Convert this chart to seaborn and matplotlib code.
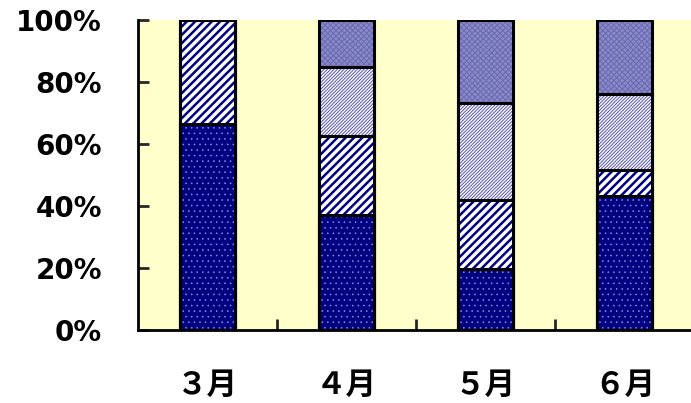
import pandas as pd
import matplotlib
matplotlib.use("Agg")
import matplotlib.pyplot as plt
import seaborn as sns
import numpy as np

# data (share of each category, %)
months = ["３月", "４月", "５月", "６月"]
seg1 = [66.5, 37.1, 19.7, 43.2]   # bottom, dark dotted
seg2 = [33.5, 25.5, 22.2, 8.4]    # bold diagonal
seg3 = [0.0, 22.2, 31.3, 24.5]    # fine diagonal
seg4 = [0.0, 15.2, 26.8, 23.9]    # checkered top
ytick_labels = ["0%", "20%", "40%", "60%", "80%", "100%"]

sns.set_style("white")
plt.rcParams['font.family'] = ['DejaVu Sans', 'Noto Sans CJK JP']

fig = plt.figure(figsize=(6.91, 4.03), dpi=100)
ax = fig.add_axes([138 / 691, 73 / 403, 556 / 691, 310 / 403])
ax.set_facecolor("#ffffcc")

# fill, hatch, hatch colour, hatch linewidth per layer
styles = [
    ("#000080", "...", "#9090e0", 0.4),
    ("white", "////", "#000080", 1.8),
    ("white", "//////////", "#5252b8", 0.7),
    ("#8a8acc", "xxxxxx", "#6c6cb0", 0.8),
]
layers = [seg1, seg2, seg3, seg4]
cum = np.cumsum(np.array(layers), axis=0)

# stacked: draw cumulative totals from the top layer down
for i in reversed(range(len(layers))):
    fc, hatch, hc, hlw = styles[i]
    df = pd.DataFrame({"month": months, "value": cum[i]})
    n0 = len(ax.patches)
    with plt.rc_context({"hatch.linewidth": hlw}):
        sns.barplot(data=df, x="month", y="value", width=0.4,
                    color=fc, edgecolor=hc, linewidth=0, hatch=hatch,
                    errorbar=None, saturation=1, ax=ax)
    for p in ax.patches[n0:]:
        if hasattr(p, "set_hatch_linewidth"):
            p.set_hatch_linewidth(hlw)
    sns.barplot(data=df, x="month", y="value", width=0.4,
                color="black", fill=False, linewidth=2.2,
                errorbar=None, ax=ax)

ax.set_xlim(-0.5, 3.5)
ax.set_ylim(0, 100)
ax.set_yticks([0, 20, 40, 60, 80, 100])
ax.set_yticklabels(ytick_labels)
ax.set_xticks(range(len(months)))
ax.set_xticklabels(months)
ax.set_xticks([0.5, 1.5, 2.5], minor=True)
ax.set_xlabel("")
ax.set_ylabel("")

ax.tick_params(axis="y", direction="in", length=8, width=2, pad=26,
               labelsize=20, labelcolor="black", left=True)
ax.tick_params(axis="x", which="major", length=0, pad=28, labelsize=22,
               labelcolor="black")
ax.tick_params(axis="x", which="minor", direction="in", length=8, width=2,
               bottom=True)
for lab in ax.get_yticklabels():
    lab.set_fontweight("bold")
for lab in ax.get_xticklabels():
    lab.set_fontweight("bold")
    lab.set_family(["Noto Sans CJK JP", "DejaVu Sans"])

for s in ["top", "right"]:
    ax.spines[s].set_visible(False)
for s in ["left", "bottom"]:
    ax.spines[s].set_color("black")
    ax.spines[s].set_linewidth(2)

fig.savefig("out.png", dpi=100)
